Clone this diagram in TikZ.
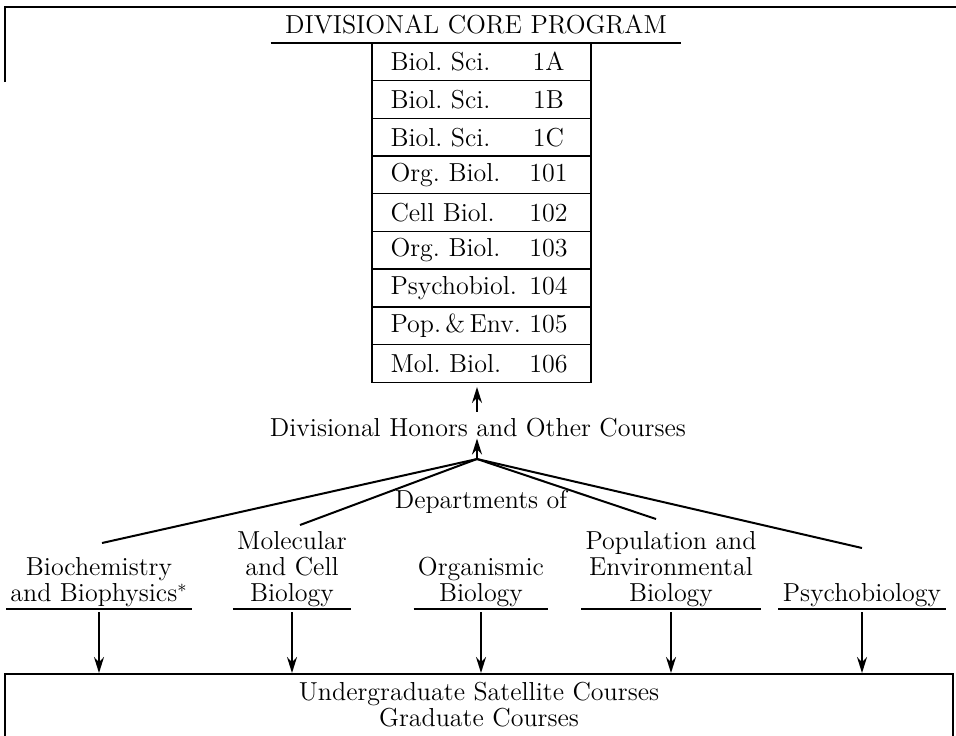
\documentclass[tikz,border=0pt]{standalone}
\usetikzlibrary{arrows.meta}
\newcommand{\chartfont}{\fontsize{13pt}{13pt}\selectfont\frenchspacing}
\newcommand{\rowtext}[2]{\makebox[67pt][l]{#1}\makebox[24pt]{#2}}

\begin{document}
\begin{tikzpicture}[x=0.5pt,y=-0.5pt,
  every node/.style={font=\chartfont},
  title/.style={minimum width=205pt, minimum height=19pt, inner sep=0pt},
  row/.style={draw, line width=0.7pt, minimum width=109.5pt, minimum height=18.85pt, inner xsep=9pt, inner ysep=0pt},
  dept/.style={align=center, anchor=south, inner xsep=2pt, inner ysep=0pt, text depth=3.5pt},
  rule/.style={line width=1pt},
  arr/.style={line width=1pt, -{Stealth[length=8pt,width=5pt]}}]
\useasboundingbox (0,0) rectangle (956,735);
\clip (0,0) rectangle (956,735);
\draw [rule] (5,82) |- (956,7);
\node [title] (title) at (476,24) {DIVISIONAL CORE PROGRAM};
\draw [rule] (title.south west) -- (title.south east);
\node [row] (r1) at (481.5,61.8) {\rowtext{Biol. Sci.}{1A}};
\node [row] (r2) at (481.5,99.5) {\rowtext{Biol. Sci.}{1B}};
\node [row] (r3) at (481.5,137.2) {\rowtext{Biol. Sci.}{1C}};
\node [row] (r4) at (481.5,174.9) {\rowtext{Org. Biol.}{101}};
\node [row] (r5) at (481.5,212.6) {\rowtext{Cell Biol.}{102}};
\node [row] (r6) at (481.5,250.3) {\rowtext{Org. Biol.}{103}};
\node [row] (r7) at (481.5,288) {\rowtext{Psychobiol.}{104}};
\node [row] (r8) at (481.5,325.7) {\rowtext{Pop.\,\&\,Env.}{105}};
\node [row] (r9) at (481.5,363.4) {\rowtext{Mol. Biol.}{106}};
\node (honors) at (478,428) {Divisional Honors and Other Courses};
\coordinate (hub) at (477,459);
\draw [arr] (hub |- honors.north) -- ([yshift=-2pt]hub |- r9.south);
\draw [arr] (hub) -- ([yshift=3pt]honors.south -| hub);
\node (depts) at (481,502) {Departments of};
% departments
\node [dept] (biochem) at (99,609) {Biochemistry\\and Biophysics$^{*}$};
\node [dept] (molcell) at (292,609) {Molecular\\and Cell\\Biology};
\node [dept] (organ) at (481,609) {Organismic\\Biology};
\node [dept] (popenv) at (671,609) {Population and\\Environmental\\Biology};
\node [dept] (psycho) at (862,609) {Psychobiology};
\foreach \d in {biochem,molcell,organ,popenv,psycho}
  \draw [rule] (\d.south west) -- (\d.south east);
\coordinate (e1) at (102,543);
\coordinate (e2) at (300,525);
\coordinate (e3) at (656,519);
\coordinate (e4) at (862,548);
\draw [rule] (hub) -- (e1);
\draw [rule] (hub) -- (e2);
\draw [rule] (hub) -- (e3);
\draw [rule] (hub) -- (e4);
\node [draw, line width=1pt, minimum width=474pt, inner ysep=4pt, text depth=12pt, anchor=north, align=center] (courses) at (479,673)
  {Undergraduate Satellite Courses\\Graduate Courses};
\foreach \d in {biochem,molcell,organ,popenv,psycho}
  \draw [arr] ([yshift=-1.5pt]\d.south) -- (\d.south |- courses.north);
\end{tikzpicture}
\end{document}
